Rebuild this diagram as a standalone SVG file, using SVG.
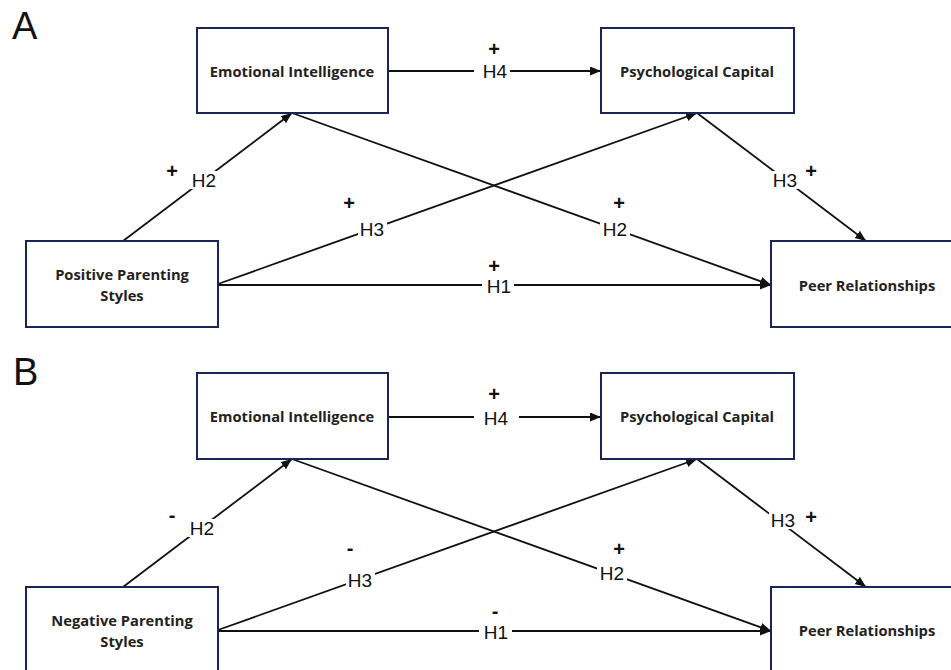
<svg xmlns="http://www.w3.org/2000/svg" width="951" height="670" viewBox="0 0 951 670">
<style>
.box{fill:#fff;stroke:#1b2456;stroke-width:2}
.nt{font-family:"Open Sans","Noto Sans",sans-serif;font-weight:bold;font-size:14.7px;fill:#222;text-anchor:middle}
.ln{stroke:#111;stroke-width:1.8;fill:none;marker-end:url(#ah)}
.lb{font-family:"Liberation Sans",Arial,sans-serif;font-size:19px;fill:#111;text-anchor:middle}
.sg{font-family:"Liberation Sans",Arial,sans-serif;font-size:20px;font-weight:bold;fill:#111;text-anchor:middle}
.bg{fill:#fff}
.pan{font-family:"Liberation Sans",Arial,sans-serif;font-size:38px;fill:#111}
</style>
<defs>
<marker id="ah" markerUnits="userSpaceOnUse" markerWidth="12" markerHeight="10" refX="11" refY="4.5" orient="auto">
<path d="M0,0 L11,4.5 L0,9 z" fill="#111"/>
</marker>
</defs>
<rect width="951" height="670" fill="#fff"/>

<text class="pan" x="12" y="39">A</text>
<text class="pan" x="13" y="385">B</text>

<!-- Panel A -->
<g id="panelA">
<g id="connectorsA">
<line class="ln" x1="388" y1="71" x2="601" y2="71"/>
<line class="ln" x1="123" y1="241" x2="292" y2="113"/>
<line class="ln" x1="218" y1="284" x2="697" y2="113"/>
<line class="ln" x1="292" y1="113" x2="771" y2="285"/>
<line class="ln" x1="697" y1="113" x2="866" y2="241"/>
<line class="ln" x1="218" y1="285" x2="771" y2="285"/>
<rect class="bg" x="474" y="62" width="36" height="18"/>
<text class="lb" x="495" y="78">H4</text>
<text class="sg" x="494" y="56">+</text>
<rect class="bg" x="190" y="171" width="29" height="18"/>
<text class="lb" x="204" y="187">H2</text>
<text class="sg" x="172" y="178">+</text>
<rect class="bg" x="358" y="220" width="29" height="18"/>
<text class="lb" x="372" y="236">H3</text>
<text class="sg" x="349" y="210">+</text>
<rect class="bg" x="771" y="171" width="29" height="18"/>
<text class="lb" x="785" y="187">H3</text>
<text class="sg" x="811" y="178">+</text>
<rect class="bg" x="600" y="220" width="30" height="18"/>
<text class="lb" x="615" y="236">H2</text>
<text class="sg" x="619" y="210">+</text>
<rect class="bg" x="482" y="277" width="32" height="18"/>
<text class="lb" x="499" y="293">H1</text>
<text class="sg" x="494" y="273">+</text>
</g>
<g id="A-EI"><rect class="box" x="197" y="28" width="191" height="85"/><text class="nt" x="292" y="77">Emotional Intelligence</text></g>
<g id="A-PC"><rect class="box" x="601" y="28" width="193" height="85"/><text class="nt" x="697" y="77">Psychological Capital</text></g>
<g id="A-PPS"><rect class="box" x="26" y="241" width="192" height="86"/><text class="nt" x="122" y="280">Positive Parenting</text><text class="nt" x="122" y="301">Styles</text></g>
<g id="A-PR"><rect class="box" x="771" y="241" width="192" height="86"/><text class="nt" x="867" y="291">Peer Relationships</text></g>
</g>

<!-- Panel B -->
<g id="panelB" transform="translate(0,345)">
<g id="connectorsB">
<line class="ln" x1="388" y1="72" x2="601" y2="72"/>
<line class="ln" x1="123" y1="242" x2="292" y2="114"/>
<line class="ln" x1="218" y1="285" x2="697" y2="114"/>
<line class="ln" x1="292" y1="114" x2="771" y2="286"/>
<line class="ln" x1="697" y1="114" x2="866" y2="242"/>
<line class="ln" x1="218" y1="286" x2="771" y2="286"/>
<rect class="bg" x="474" y="63" width="45" height="18"/>
<text class="lb" x="496" y="80">H4</text>
<text class="sg" x="494" y="56">+</text>
<rect class="bg" x="188" y="174" width="29" height="18"/>
<text class="lb" x="202" y="190">H2</text>
<text class="sg" x="172" y="177">-</text>
<rect class="bg" x="346" y="226" width="29" height="18"/>
<text class="lb" x="360" y="242">H3</text>
<text class="sg" x="350" y="210">-</text>
<rect class="bg" x="769" y="166" width="29" height="18"/>
<text class="lb" x="783" y="182">H3</text>
<text class="sg" x="811" y="179">+</text>
<rect class="bg" x="597" y="219" width="30" height="18"/>
<text class="lb" x="612" y="235">H2</text>
<text class="sg" x="619" y="211">+</text>
<rect class="bg" x="479" y="278" width="33" height="18"/>
<text class="lb" x="496" y="294">H1</text>
<text class="sg" x="495" y="273">-</text>
</g>
<g id="B-EI"><rect class="box" x="197" y="28" width="191" height="86"/><text class="nt" x="292" y="77">Emotional Intelligence</text></g>
<g id="B-PC"><rect class="box" x="601" y="28" width="193" height="86"/><text class="nt" x="697" y="77">Psychological Capital</text></g>
<g id="B-NPS"><rect class="box" x="26" y="242" width="192" height="86"/><text class="nt" x="122" y="281">Negative Parenting</text><text class="nt" x="122" y="302">Styles</text></g>
<g id="B-PR"><rect class="box" x="771" y="242" width="192" height="86"/><text class="nt" x="867" y="291">Peer Relationships</text></g>
</g>
</svg>
